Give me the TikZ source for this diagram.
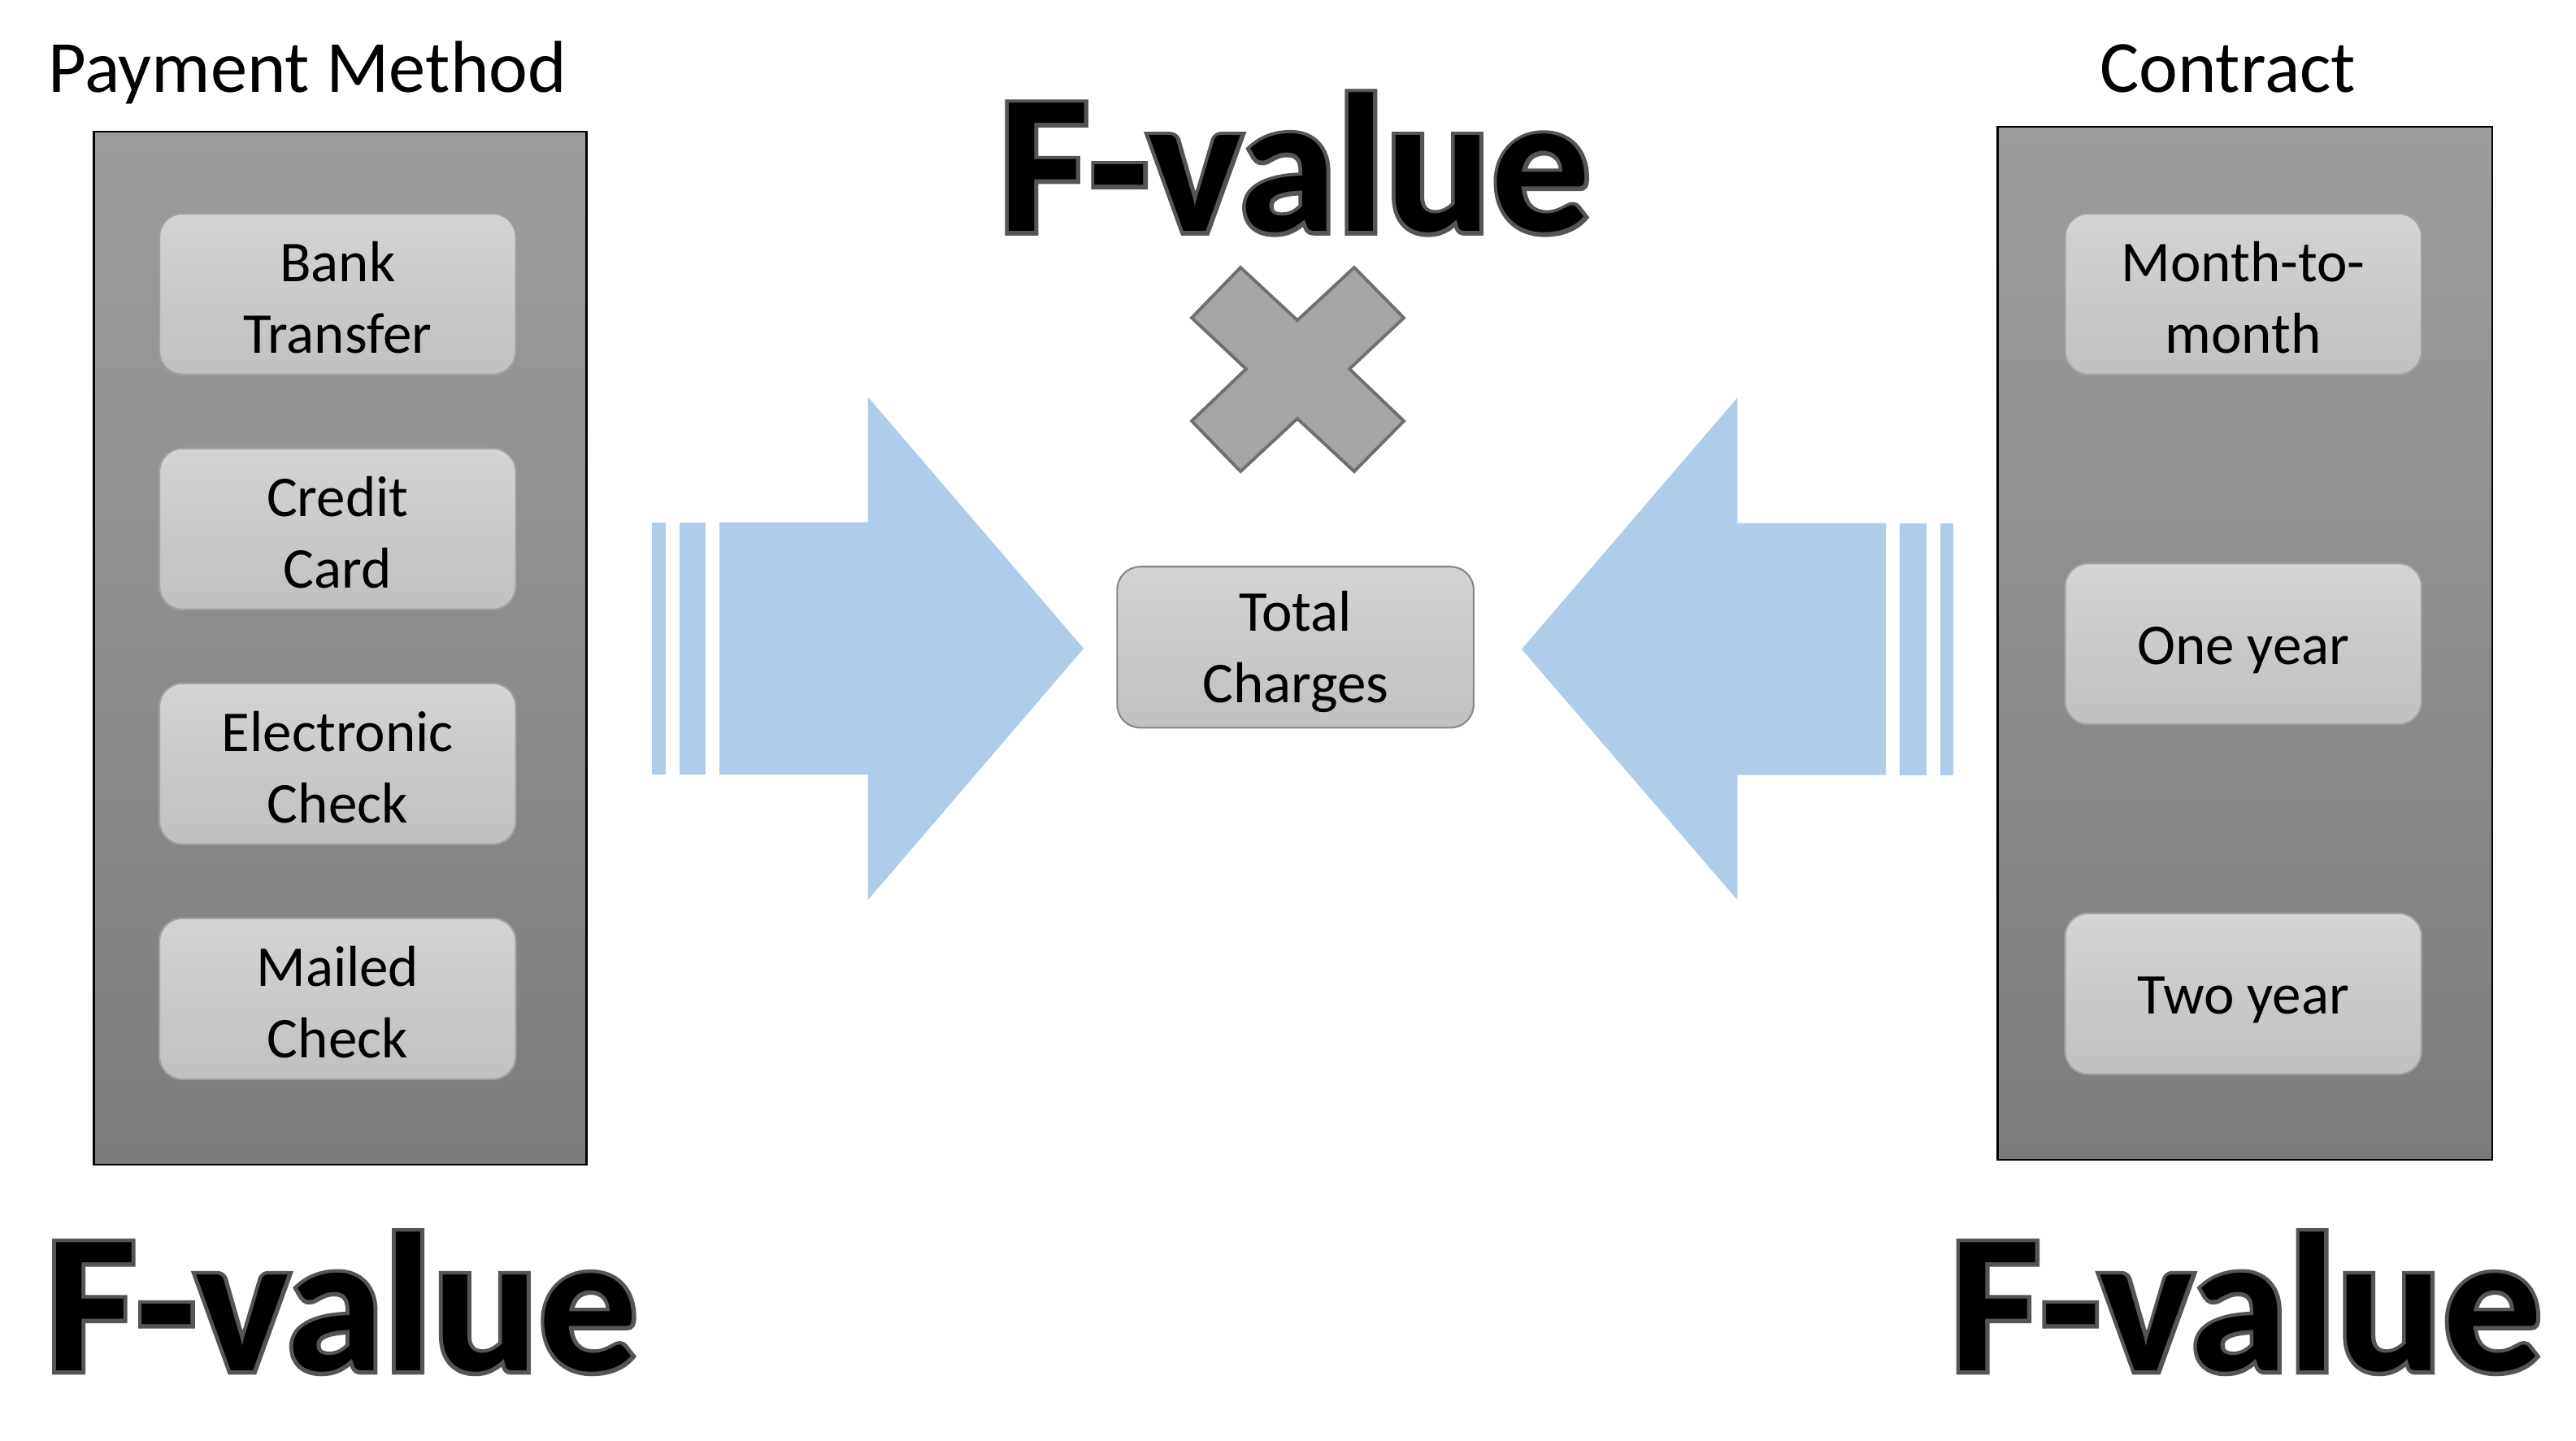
\documentclass[tikz,border=0pt]{standalone}
\usepackage{fontspec}
\setmainfont{Carlito}
\newfontfamily\fvoutfont[FakeBold=4]{Carlito Bold}
\definecolor{panelTop}{RGB}{157,157,157}
\definecolor{panelBot}{RGB}{124,124,124}
\definecolor{itemTop}{RGB}{212,212,212}
\definecolor{itemBot}{RGB}{192,192,192}
\definecolor{itemLine}{RGB}{160,160,160}
\definecolor{arrowBlue}{RGB}{175,205,234}
\definecolor{crossFill}{RGB}{166,166,166}
\definecolor{crossLine}{RGB}{112,112,112}
\definecolor{fvalLine}{RGB}{85,85,85}
\newcommand\itemfont{\fontsize{20}{24.9}\selectfont}
\newcommand\hdrfont{\fontsize{25.5}{30}\selectfont}
\newcommand\fvalfont{\bfseries\fontsize{68.5}{80}\selectfont}
\newcommand\ls{\rule[-1pt]{0pt}{18.2pt}}
\newcommand\fv{{\color{fvalLine}\rlap{\fvoutfont\fontsize{68.5}{80}\selectfont F-value}}{\color{black}F-value}}
\tikzset{
  panelbox/.style={draw=black, line width=0.7pt, top color=panelTop, bottom color=panelBot,
    minimum width=6cm, minimum height=12.58cm, inner sep=0pt},
  itembox/.style={draw=itemLine, line width=0.6pt, rounded corners=0.28cm,
    top color=itemTop, bottom color=itemBot, minimum width=4.34cm, minimum height=1.96cm,
    align=center, font=\itemfont, inner sep=0pt},
  hdr/.style={font=\hdrfont, anchor=base, inner sep=0pt},
  fval/.style={font=\fvalfont, anchor=base, inner sep=0pt},
  bigarrow/.style={fill=arrowBlue},
  crossshape/.style={fill=crossFill, draw=crossLine, line width=1.1pt, line join=miter},
}
\begin{document}
\begin{tikzpicture}[x=0.02cm,y=-0.02cm]
\fill[white] (0,0) rectangle (1568,877);
\useasboundingbox (0,0) rectangle (1568,877);

% headers
\node[hdr] (pmt) at (187,56) {Payment Method};
\node[hdr] (ctt) at (1356,56) {Contract};

% panels
\node[panelbox] (pm) at (207,394.5) {};
\node[panelbox, minimum width=6.02cm] (ct) at (1366.5,391.5) {};

% left items
\node[itembox] (bank) at (205.5,179) {\ls Bank\\\ls Transfer};
\node[itembox] (credit) at (205.5,322) {\ls Credit\\\ls Card};
\node[itembox] (echeck) at (205.5,465) {\ls Electronic\\\ls Check};
\node[itembox] (mcheck) at (205.5,608) {\ls Mailed\\\ls Check};

% right items
\node[itembox] (mtm) at (1365.5,179) {\ls Month-to-\\\ls month};
\node[itembox] (one) at (1365.5,392) {\ls One year};
\node[itembox] (two) at (1365.5,605) {\ls Two year};

% center
\node[itembox, draw=itemLine!85!black] (total) at (788.5,394) {\ls Total\\\ls Charges};

% left arrow
\fill[bigarrow] (396.7,318) rectangle (405.1,471.5);
\fill[bigarrow] (413.4,318) rectangle (429.7,471.5);
\fill[bigarrow] (437.9,318) -- (528.2,318) -- (528.2,241.5) -- (659.6,394.8)
  -- (528.2,548) -- (528.2,471.5) -- (437.9,471.5) -- cycle;

% right arrow
\fill[bigarrow] (1180.9,318.5) rectangle (1189,471.8);
\fill[bigarrow] (1156.1,318.5) rectangle (1172.5,471.8);
\fill[bigarrow] (1148,318.5) -- (1057.6,318.5) -- (1057.6,242) -- (926.2,395.2)
  -- (1057.6,548) -- (1057.6,471.8) -- (1148,471.8) -- cycle;

% cross
\draw[crossshape] (755.1,162.8) -- (789.7,195) -- (824.3,162.8) -- (854.5,193.5)
  -- (821.4,224.6) -- (854.5,256.3) -- (824.3,287) -- (789.7,254.8)
  -- (755.1,287) -- (725.4,256.3) -- (758.5,224.6) -- (725.4,193.5) -- cycle;

% F-values
\node[fval] (ftop) at (788,141) {\fv};
\node[fval] (fleft) at (208,834.5) {\fv};
\node[fval] (fright) at (1367,834.5) {\fv};
\end{tikzpicture}
\end{document}
